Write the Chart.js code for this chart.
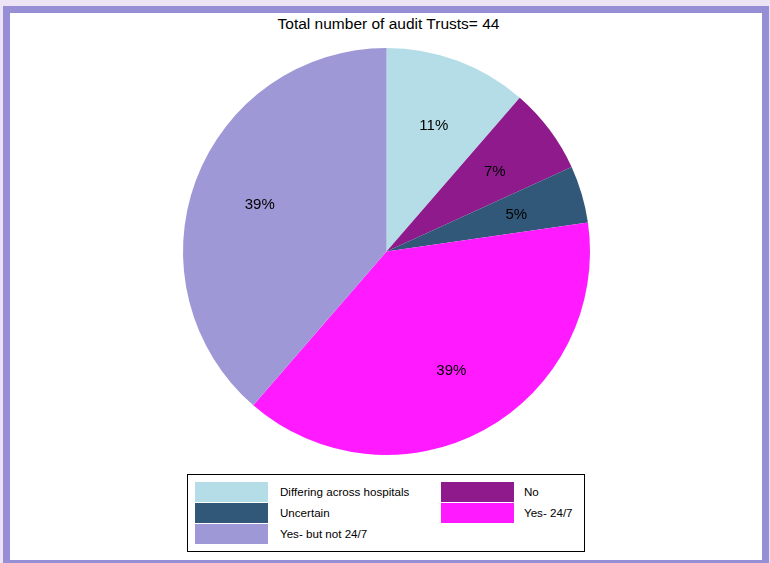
<!DOCTYPE html>
<html><head><meta charset="utf-8">
<script src="https://cdn.jsdelivr.net/npm/chart.js@4"></script>
<style>
html,body{margin:0;padding:0;}
body{width:770px;height:563px;background:#ede4f5;position:relative;overflow:hidden;font-family:"Liberation Sans",Arial,sans-serif;}
#frame{position:absolute;left:3px;top:6px;width:752px;height:547px;border:7px solid #978fd6;border-bottom-width:10px;background:#fff;}
#title{position:absolute;left:0;width:777px;top:15px;text-align:center;font-size:15.5px;color:#000;}
#cv{position:absolute;left:0;top:0;}
#legend{position:absolute;left:187px;top:474px;width:398px;height:78px;border:1px solid #000;box-sizing:border-box;background:#fff;}
.sw{position:absolute;width:73px;height:20px;}
.lt{position:absolute;font-size:11.6px;color:#000;line-height:20px;}
</style></head>
<body>
<div id="frame"></div>
<div id="title">Total number of audit Trusts= 44</div>
<canvas id="cv" width="770" height="563"></canvas>
<div id="legend"></div>
<script>
const categories = ["Differing across hospitals", "No", "Uncertain", "Yes- 24/7", "Yes- but not 24/7"];
const counts = [5, 3, 2, 17, 17];
const colors = ["#b4dde8", "#8e1a8c", "#315878", "#ff1aff", "#9f98d6"];
const legendOrder = [0, 1, 2, 3, 4];

const total = counts.reduce((a, b) => a + b, 0);

const labelPlugin = {
  id: 'pctLabels',
  afterDatasetsDraw(chart) {
    const ctx = chart.ctx;
    const meta = chart.getDatasetMeta(0);
    ctx.save();
    ctx.font = '15px "Liberation Sans", Arial, sans-serif';
    ctx.fillStyle = '#000';
    ctx.textAlign = 'center';
    ctx.textBaseline = 'middle';
    meta.data.forEach((arc, i) => {
      const mid = (arc.startAngle + arc.endAngle) / 2;
      const r = arc.outerRadius * 0.665;
      const x = arc.x + Math.cos(mid) * r;
      const y = arc.y + Math.sin(mid) * r + 1;
      ctx.fillText(Math.round(counts[i] / total * 100) + '%', x, y);
    });
    ctx.restore();
  }
};

new Chart(document.getElementById('cv'), {
  type: 'pie',
  data: {
    labels: categories,
    datasets: [{ data: counts, backgroundColor: colors, borderWidth: 0 }]
  },
  options: {
    responsive: false,
    animation: false,
    layout: { padding: { top: 48, bottom: 108, left: 183, right: 180 } },
    plugins: { legend: { display: false }, tooltip: { enabled: false }, title: { display: false } }
  },
  plugins: [labelPlugin]
});

// HTML legend built from the arrays (two columns, row-major)
const lg = document.getElementById('legend');
const colX = [7, 253];
const txtX = [92, 336];
const rowY = [7, 28, 49];
legendOrder.forEach((idx, k) => {
  const col = k % 2, row = Math.floor(k / 2);
  const sw = document.createElement('div');
  sw.className = 'sw';
  sw.style.left = colX[col] + 'px';
  sw.style.top = rowY[row] + 'px';
  sw.style.background = colors[idx];
  lg.appendChild(sw);
  const t = document.createElement('div');
  t.className = 'lt';
  t.style.left = txtX[col] + 'px';
  t.style.top = rowY[row] + 'px';
  t.textContent = categories[idx];
  lg.appendChild(t);
});
</script>
</body></html>
